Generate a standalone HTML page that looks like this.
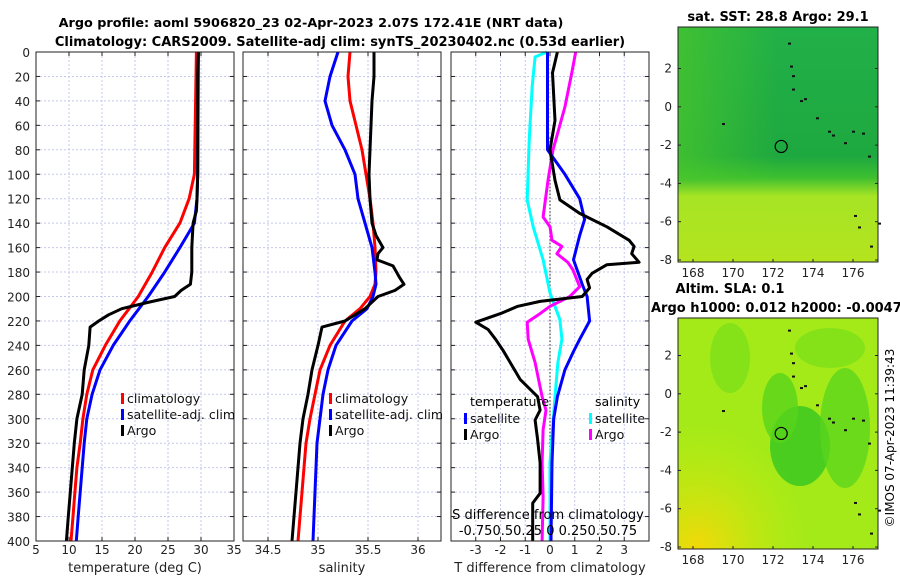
<!DOCTYPE html>
<html><head><meta charset="utf-8"><style>
html,body{margin:0;padding:0;background:#fff;}
svg{display:block;font-family:"DejaVu Sans","Liberation Sans",sans-serif;}
</style></head><body>
<svg id="chart" xmlns="http://www.w3.org/2000/svg" width="900" height="580" viewBox="0 0 900 580">
<defs>
<linearGradient id="sstg" x1="0" y1="0" x2="0" y2="1">
<stop offset="0" stop-color="#22b048"/><stop offset="0.55" stop-color="#1ea840"/><stop offset="0.64" stop-color="#3cbf30"/><stop offset="0.72" stop-color="#a6e424"/><stop offset="1" stop-color="#b4e41e"/>
</linearGradient>
<linearGradient id="sstl" x1="0" y1="0" x2="1" y2="0">
<stop offset="0" stop-color="#4cc82a" stop-opacity="0.7"/><stop offset="0.5" stop-color="#4cc82a" stop-opacity="0"/>
</linearGradient>
<radialGradient id="slay" cx="0.1" cy="1" r="0.55"><stop offset="0" stop-color="#f4d808"/><stop offset="1" stop-color="#c8ec10" stop-opacity="0"/></radialGradient>
</defs>
<rect width="900" height="580" fill="#fff"/>
<text x="311" y="27" text-anchor="middle" font-size="12.8" font-weight="bold">Argo profile: aoml 5906820_23 02-Apr-2023 2.07S 172.41E (NRT data)</text>
<text x="340" y="46" text-anchor="middle" font-size="13" font-weight="bold">Climatology: CARS2009. Satellite-adj clim: synTS_20230402.nc (0.53d earlier)</text>
<g id="panels"></g>
<g id="maps"></g>
<text transform="translate(894,438) rotate(-90)" text-anchor="middle" font-size="12">©IMOS 07-Apr-2023 11:39:43</text>
</svg>
<script>
const depths=[0,20,40,60,80,100,120,130,140,160,180,190,195,200,205,210,215,220,225,240,260,280,300,320,340,360,380,400];
const tArgo=[29.6,29.5,29.5,29.5,29.5,29.5,29.4,29.3,28.8,28.6,28.6,28.4,27,26.0,21.8,18.0,16.0,14.5,13.2,13.0,12.3,12.0,11.2,10.8,10.5,10.2,9.9,9.6];
const climDepths=[0,100,120,140,160,180,200,220,240,260,280,300,320,340,360,380,400];
const tClim=[29.3,29.0,28.2,26.8,24.5,22.6,20.5,17.7,15.5,13.6,12.7,12.1,11.7,11.2,10.9,10.6,10.3];
const tSat=[29.6,29.5,29.4,29.0,26.8,24.5,22.0,19.2,16.7,14.7,13.5,12.7,12.3,12.0,11.7,11.4,11.1];
const sDepthsArgo=[0,20,40,60,80,100,120,140,150,160,165,170,175,185,190,195,200,210,220,225,240,260,280,300,320,340,360,380,400];
const sArgo=[35.56,35.56,35.54,35.53,35.52,35.51,35.52,35.54,35.58,35.65,35.60,35.59,35.75,35.82,35.86,35.77,35.60,35.47,35.27,35.04,35.00,34.94,34.90,34.85,34.82,34.80,34.78,34.76,34.74];
const sDepthsClim=[0,20,40,60,80,100,120,140,160,180,190,200,210,220,240,260,280,300,320,340,360,380,400];
const sClim=[35.32,35.30,35.32,35.38,35.44,35.48,35.52,35.55,35.57,35.58,35.57,35.52,35.42,35.27,35.12,35.02,34.97,34.92,34.88,34.86,34.84,34.82,34.80];
const sSat=[35.20,35.12,35.07,35.14,35.27,35.37,35.40,35.47,35.54,35.57,35.58,35.55,35.49,35.34,35.18,35.10,35.05,35.02,34.99,34.98,34.97,34.96,34.95];
const dTSatDepths=[0,40,80,100,120,137,150,170,190,200,220,235,245,260,282,300,336,400];
const dTSat=[-0.1,-0.1,-0.1,0.6,1.2,1.4,1.2,0.95,1.3,1.5,1.6,1.2,0.95,0.6,0.3,0.15,0.08,0.04];
const dTArgoDepths=[0,17,56,80,105,121,132,143,154,159,165,172,174,181,186,193,200,204,208,214,221,227,235,244,268,282,293,301,317,336,361,369,400];
const dTArgo=[0.3,0.1,0.2,0,0.2,0.4,1.2,2.3,3.2,3.4,3.3,3.6,2.3,1.7,1.5,1.6,1.3,-0.4,-1.3,-2.0,-3.0,-2.5,-2.2,-1.9,-1.2,-0.5,-0.4,-0.6,-0.5,-0.4,-0.4,-0.7,-0.7];
const dSSatDepths=[0,4,28,72,121,143,170,197,219,235,254,282,336,400];
const dSSat=[-0.03,-0.15,-0.18,-0.21,-0.23,-0.17,-0.07,0,0.1,0.12,0.08,0.05,0,0];
const dSArgoDepths=[0,17,45,80,105,135,143,154,159,165,172,178,192,200,208,214,221,235,254,282,293,309,336,364,400];
const dSArgo=[0.26,0.22,0.15,0.03,-0.02,-0.07,0,0.02,0.12,0.07,0.18,0.23,0.3,0.2,0,-0.1,-0.23,-0.22,-0.15,-0.08,-0.04,-0.07,-0.08,-0.07,-0.08];
const depthTicks=[0,20,40,60,80,100,120,140,160,180,200,220,240,260,280,300,320,340,360,380,400];
const tTicks=[5,10,15,20,25,30,35];
const sTicks=[34.5,35,35.5,36];
const dTicks=[-3,-2,-1,0,1,2,3];
const lonTicks=[168,170,172,174,176];
const latTicks=[2,0,-2,-4,-6,-8];
const argoLon=172.41, argoLat=-2.07;
const islands=[[172.8,3.3],[172.9,2.1],[173.0,1.6],[173.0,0.9],[173.4,0.3],[173.6,0.4],[174.2,-0.6],[174.8,-1.3],[175.0,-1.5],[175.6,-1.9],[176.0,-1.3],[176.5,-1.4],[169.5,-0.9],[176.8,-2.6],[176.1,-5.7],[176.3,-6.3],[177.3,-6.1],[176.9,-7.3]];

const NS='http://www.w3.org/2000/svg';
function el(tag,attrs,parent,txt){const e=document.createElementNS(NS,tag);for(const k in attrs)e.setAttribute(k,attrs[k]);if(txt!==undefined)e.textContent=txt;parent.appendChild(e);return e;}
const P=document.getElementById('panels');
const top0=52,bot0=541;
const yD=d=>top0+d/400*(bot0-top0);

function panel(name,x0,x1,lo,hi,ticks,fmt,title){
  const g=el('g',{},P);
  
  
  const xs=v=>x0+(v-lo)/(hi-lo)*(x1-x0);
  depthTicks.forEach(d=>{const l=el('line',{x1:x0,x2:x1,y1:yD(d),y2:yD(d),stroke:'#c4c8ec','stroke-dasharray':'2,2','stroke-width':1},g);
    
    el('line',{x1:x0,x2:x0+4,y1:yD(d),y2:yD(d),stroke:'#222'},g);el('line',{x1:x1-4,x2:x1,y1:yD(d),y2:yD(d),stroke:'#222'},g);});
  ticks.forEach(v=>{const X=xs(v);const l=el('line',{x1:X,x2:X,y1:top0,y2:bot0,stroke:'#c4c8ec','stroke-dasharray':'2,2'},g);
    
    el('line',{x1:X,x2:X,y1:bot0-4,y2:bot0,stroke:'#222'},g);el('line',{x1:X,x2:X,y1:top0,y2:top0+4,stroke:'#222'},g);
    const t=el('text',{x:X,y:554,'text-anchor':'middle','font-size':12,fill:'#222'},g,fmt(v));
    });
  const tt=el('text',{x:(x0+x1)/2,y:572,'text-anchor':'middle','font-size':13,fill:'#222'},g,title);
  
  return {g,xs};
}
function line(g,xs,vals,ds,color,name){
  const pts=vals.map((v,i)=>xs(v).toFixed(1)+','+yD(ds[i]).toFixed(1)).join(' ');
  const p=el('polyline',{points:pts,fill:'none',stroke:color,'stroke-width':3,'stroke-linejoin':'round'},g);
  
}
function frame(g,x0,x1){el('rect',{x:x0,y:top0,width:x1-x0,height:bot0-top0,fill:'none',stroke:'#222','stroke-width':1},g);}
function legend(g,x,y,color,label){
  const b=el('rect',{x:x,y:y-9,width:3,height:11,fill:color},g);
  
  const t=el('text',{x:x+6,y:y+1,'font-size':12.6,fill:'#111'},g,label);
  
}

depthTicks.forEach(d=>{const t=el('text',{x:30,y:yD(d)+5,'text-anchor':'end','font-size':12,fill:'#222'},P,String(d));
  });

let p1=panel('temperature-panel',36,234,5,35,tTicks,v=>String(v),'temperature (deg C)');
line(p1.g,p1.xs,tClim,climDepths,'#f00','climatology-temperature-line');
line(p1.g,p1.xs,tSat,climDepths,'#00f','satellite-temperature-line');
line(p1.g,p1.xs,tArgo,depths,'#000','argo-temperature-line');
frame(p1.g,36,234);
legend(p1.g,121,402,'#f00','climatology');legend(p1.g,121,418,'#00f','satellite-adj. clim');legend(p1.g,121,434,'#000','Argo');

let p2=panel('salinity-panel',243,441,34.25,36.23,sTicks,v=>String(v),'salinity');
line(p2.g,p2.xs,sClim,sDepthsClim,'#f00','climatology-salinity-line');
line(p2.g,p2.xs,sSat,sDepthsClim,'#00f','satellite-salinity-line');
line(p2.g,p2.xs,sArgo,sDepthsArgo,'#000','argo-salinity-line');
frame(p2.g,243,441);
legend(p2.g,329,402,'#f00','climatology');legend(p2.g,329,418,'#00f','satellite-adj. clim');legend(p2.g,329,434,'#000','Argo');
el('rect',{x:442,y:405,width:8,height:20,fill:'#fff'},P);

let p3=panel('difference-panel',451,649,-4,4,dTicks,v=>String(v),'T difference from climatology');
const xsS=v=>451+(v+1)/2*(649-451);
const z=el('line',{x1:p3.xs(0),x2:p3.xs(0),y1:yD(70),y2:bot0,stroke:'#554',"stroke-dasharray":'1.5,2','stroke-width':1.3},p3.g);

line(p3.g,xsS,dSSat,dSSatDepths,'#0ff','satellite-salinity-diff-line');
line(p3.g,xsS,dSArgo,dSArgoDepths,'#f0f','argo-salinity-diff-line');
line(p3.g,p3.xs,dTSat,dTSatDepths,'#00f','satellite-temperature-diff-line');
line(p3.g,p3.xs,dTArgo,dTArgoDepths,'#000','argo-temperature-diff-line');
frame(p3.g,451,649);
let lt=el('text',{x:470,y:406,'font-size':12.6},p3.g,'temperature');
let ls=el('text',{x:595,y:406,'font-size':12.6},p3.g,'salinity');
legend(p3.g,464,422,'#00f','satellite');legend(p3.g,464,438,'#000','Argo');
legend(p3.g,589,422,'#0ff','satellite');legend(p3.g,589,438,'#f0f','Argo');
let st=el('text',{x:548,y:519,'text-anchor':'middle','font-size':13},p3.g,'S difference from climatology');
let sl=el('text',{x:548,y:535,'text-anchor':'middle','font-size':13},p3.g,'-0.750.50.25 0  0.250.50.75');

const M=document.getElementById('maps');
function map(name,y0,y1,title1,title2,kind){
  const g=el('g',{},M);
  
  
  const x0=678,x1=878;
  const lx=v=>693+(v-168)*20;
  const ly=v=>(y1-2)-(v+8)*19.15;
  if(kind==='sst'){
    el('rect',{x:x0,y:y0,width:x1-x0,height:y1-y0,fill:'url(#sstg)'},g);
    el('rect',{x:x0,y:y0,width:x1-x0,height:(y1-y0)*0.65,fill:'url(#sstl)'},g);
  } else {
    el('rect',{x:x0,y:y0,width:x1-x0,height:y1-y0,fill:'#a4ea18'},g);
    el('rect',{x:x0,y:y0,width:x1-x0,height:y1-y0,fill:'url(#slay)'},g);
    el('ellipse',{cx:800,cy:y0+128,rx:30,ry:40,fill:'#3cc822',opacity:0.85},g);
    el('ellipse',{cx:780,cy:y0+90,rx:18,ry:35,fill:'#58d41c',opacity:0.8},g);
    el('ellipse',{cx:845,cy:y0+110,rx:25,ry:60,fill:'#58d41c',opacity:0.75},g);
    el('ellipse',{cx:730,cy:y0+40,rx:20,ry:35,fill:'#78de1a',opacity:0.7},g);
    el('ellipse',{cx:830,cy:y0+30,rx:35,ry:20,fill:'#78de1a',opacity:0.7},g);
  }
  islands.forEach(p=>el('rect',{x:lx(p[0])-1,y:ly(p[1])-1,width:3,height:2,fill:'#111'},g));
  const c=el('circle',{cx:lx(argoLon),cy:ly(argoLat),r:6,fill:'none',stroke:'#000','stroke-width':1.2},g);
  
  el('rect',{x:x0,y:y0,width:x1-x0,height:y1-y0,fill:'none',stroke:'#222'},g);
  lonTicks.forEach(v=>{el('line',{x1:lx(v),x2:lx(v),y1:y1-3,y2:y1,stroke:'#222'},g);
    const t=el('text',{x:lx(v),y:y1+15,'text-anchor':'middle','font-size':12,fill:'#222'},g,String(v));
    });
  latTicks.forEach(v=>{el('line',{x1:x0,x2:x0+3,y1:ly(v),y2:ly(v),stroke:'#222'},g);el('line',{x1:x1-3,x2:x1,y1:ly(v),y2:ly(v),stroke:'#222'},g);
    const t=el('text',{x:x0-6,y:ly(v)+4,'text-anchor':'end','font-size':12,fill:'#222'},g,String(v));
    });
  const t1=el('text',{x:title2?730:778,y:y0-(title2?25:6),'text-anchor':'middle','font-size':13,'font-weight':'bold'},g,title1);
  
  if(title2){const t2=el('text',{x:651,y:y0-6,'font-size':13,'font-weight':'bold'},g,title2);
    }
}
map('sst-map',27,262,'sat. SST: 28.8 Argo: 29.1',null,'sst');
map('sla-map',318,549,'Altim. SLA: 0.1','Argo h1000: 0.012 h2000: -0.0047','sla');
</script>
</body></html>
